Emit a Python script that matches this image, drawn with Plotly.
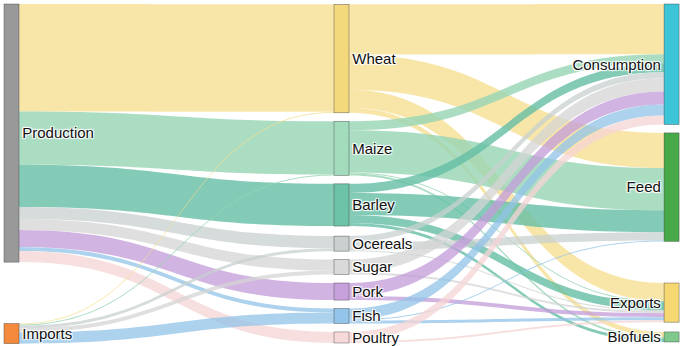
import plotly.graph_objects as go

labels = ["Production", "Imports", "Wheat", "Maize", "Barley", "Ocereals", "Sugar",
          "Pork", "Fish", "Poultry", "Consumption", "Feed", "Exports", "Biofuels"]
node_colors = ["#999999", "#f68a3c", "#f4d97c", "#a3dbbd", "#6cc3a7", "#c9d0cf", "#d9d9d9",
               "#c7a1db", "#93c4ea", "#f6d9d9", "#3cc4d9", "#47a947", "#f5d872", "#80c98c"]
middle = ["Wheat", "Maize", "Barley", "Ocereals", "Sugar", "Pork", "Fish", "Poultry"]
flow_colors = ["rgba(246,222,140,0.75)", "rgba(150,212,180,0.8)", "rgba(100,190,165,0.8)",
               "rgba(200,208,207,0.75)", "rgba(212,212,212,0.75)", "rgba(195,155,218,0.75)",
               "rgba(145,195,232,0.75)", "rgba(245,212,212,0.75)"]

# node positions (normalized centres)
node_x = [0.0111, 0.0111, 0.5, 0.5, 0.5, 0.5, 0.5, 0.5, 0.5, 0.5, 0.989, 0.989, 0.989, 0.989]
node_y = [0.380, 0.978, 0.162, 0.427, 0.596, 0.711, 0.779, 0.850, 0.924, 0.981,
          0.178, 0.543, 0.886, 0.988]

# links: source, target, value
src = ["Production"] * 8 + ["Imports"] * 5 + \
      ["Wheat"] * 4 + ["Maize"] * 4 + ["Barley"] * 4 + ["Ocereals"] * 3 + \
      ["Sugar"] * 2 + ["Pork"] * 2 + ["Fish"] * 3 + ["Poultry"] * 2
tgt = ["Wheat", "Maize", "Barley", "Ocereals", "Sugar", "Pork", "Fish", "Poultry",
       "Wheat", "Maize", "Ocereals", "Sugar", "Fish",
       "Consumption", "Feed", "Exports", "Biofuels",
       "Consumption", "Feed", "Exports", "Biofuels",
       "Consumption", "Feed", "Exports", "Biofuels",
       "Consumption", "Feed", "Exports",
       "Consumption", "Exports",
       "Consumption", "Exports",
       "Consumption", "Feed", "Exports",
       "Consumption", "Exports"]
vals = [107, 53, 42, 12, 11, 17, 4, 11,
        1, 1, 3, 4, 11,
        50, 35, 18, 5,
        9, 42, 1, 2,
        9, 22, 8, 3,
        6, 8, 1,
        13, 2,
        13, 4,
        11, 1, 3,
        9, 2]

idx = {n: i for i, n in enumerate(labels)}

link_colors = []
for s, t in zip(src, tgt):
    key = t if t in middle else s
    link_colors.append(flow_colors[middle.index(key)])

fig = go.Figure(go.Sankey(
    arrangement="snap",
    node=dict(
        label=labels,
        color=node_colors,
        x=node_x,
        y=node_y,
        pad=8.4,
        thickness=15,
        line=dict(color="rgba(60,60,60,0.8)", width=0.5),
    ),
    link=dict(
        source=[idx[s] for s in src],
        target=[idx[t] for t in tgt],
        value=vals,
        color=link_colors,
    ),
    textfont=dict(family="Liberation Sans, Arial", size=15, color="#111111"),
))

fig.update_layout(
    width=683, height=346,
    margin=dict(l=4, r=4, t=4, b=5),
    paper_bgcolor="white",
    plot_bgcolor="white",
)

fig.write_html("out.html")
